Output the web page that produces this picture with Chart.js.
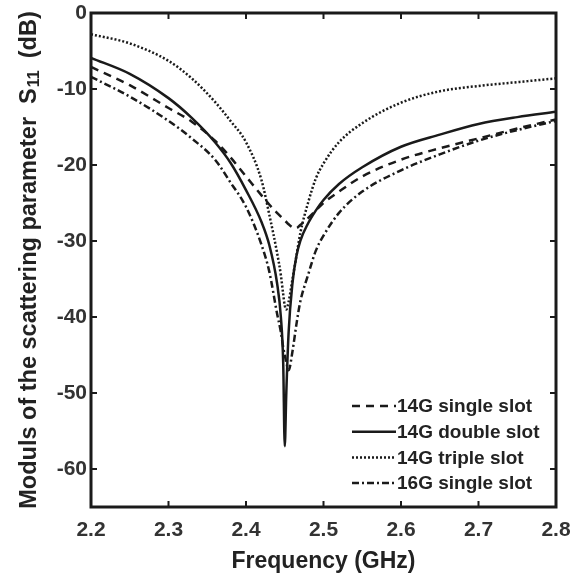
<!DOCTYPE html>
<html>
<head>
<meta charset="utf-8">
<script src="https://cdn.jsdelivr.net/npm/chart.js@4.4.1/dist/chart.umd.min.js"></script>
<style>
  html, body { margin: 0; padding: 0; background: #fff; }
  #wrap { width: 571px; height: 576px; }
</style>
</head>
<body>
<div id="wrap"><canvas id="s11Chart" width="571" height="576"></canvas></div>
<script>
// frequency samples (GHz), denser around the resonance
const freq = [2.2, 2.25, 2.3, 2.33, 2.36, 2.38, 2.4, 2.42, 2.43, 2.44, 2.445, 2.448, 2.45, 2.452, 2.455, 2.46, 2.465, 2.47, 2.48, 2.49, 2.5, 2.52, 2.55, 2.6, 2.65, 2.7, 2.75, 2.8];

// S11 (dB)
const single14 = [-7.1, -9.5, -12.5, -14.3, -16.8, -19.0, -21.5, -24.0, -25.2, -26.3, -26.8, -27.1, -27.3, -27.5, -27.8, -28.2, -28.3, -27.9, -27.0, -26.0, -25.0, -23.5, -21.5, -19.3, -17.8, -16.5, -15.2, -14.0];
const double14 = [-5.9, -8.0, -11.2, -13.8, -17.0, -19.7, -23.3, -27.5, -30.5, -35.5, -40, -46, -57, -50, -42, -35.5, -32, -30, -27.7, -26, -24.6, -22.5, -20.3, -17.6, -16.0, -14.6, -13.7, -13.0];
const triple14 = [-2.8, -4.0, -6.3, -8.6, -11.7, -14.2, -17.0, -22.0, -26.5, -31.5, -34.5, -37, -38.5, -39, -38, -35, -32, -29, -25, -21.8, -19.8, -17, -14.5, -11.8, -10.3, -9.6, -9.1, -8.6];
const single16 = [-8.4, -11.0, -14.2, -16.5, -19.3, -22.3, -25.5, -30.5, -34, -39.5, -42, -44, -45, -46, -47, -44.5, -41, -38, -34.5, -31.3, -29.3, -26.3, -23.5, -20.7, -18.6, -16.8, -15.4, -14.2];

const seriesLabels = ['14G single slot', '14G double slot', '14G triple slot', '16G single slot'];
const xTicks = [2.2, 2.3, 2.4, 2.5, 2.6, 2.7, 2.8];
const yTicks = [0, -10, -20, -30, -40, -50, -60];

const FONT = '"Liberation Sans", Arial, sans-serif';
const INK = '#1a1a1a';

function toPoints(vals) {
  return freq.map((f, i) => ({ x: f, y: vals[i] }));
}

function lineSet(label, vals, dash, width) {
  return {
    label,
    data: toPoints(vals),
    borderColor: INK,
    borderWidth: width,
    borderDash: dash,
    pointRadius: 0,
    fill: false,
    cubicInterpolationMode: 'monotone',
  };
}

// frame, inward ticks, axis titles and legend inside the plot
const decorPlugin = {
  id: 'decor',
  afterDraw(chart) {
    const { ctx, chartArea: a, scales } = chart;
    ctx.save();

    // inward tick marks on all four sides
    ctx.strokeStyle = INK;
    ctx.lineWidth = 2;
    ctx.setLineDash([]);
    yTicks.forEach((v) => {
      const py = scales.y.getPixelForValue(v);
      ctx.beginPath();
      ctx.moveTo(a.left, py); ctx.lineTo(a.left + 6, py);
      ctx.moveTo(a.right, py); ctx.lineTo(a.right - 6, py);
      ctx.stroke();
    });
    xTicks.forEach((v) => {
      const px = scales.x.getPixelForValue(v);
      ctx.beginPath();
      ctx.moveTo(px, a.bottom); ctx.lineTo(px, a.bottom - 6);
      ctx.moveTo(px, a.top); ctx.lineTo(px, a.top + 6);
      ctx.stroke();
    });

    // box
    ctx.lineWidth = 3;
    ctx.strokeRect(a.left, a.top, a.right - a.left, a.bottom - a.top);

    // x title
    ctx.fillStyle = '#222';
    ctx.font = 'bold 23px ' + FONT;
    ctx.textAlign = 'center';
    ctx.textBaseline = 'alphabetic';
    ctx.fillText('Frequency (GHz)', (a.left + a.right) / 2, 568);

    // y title with subscript
    const main = 'Moduls of the scattering parameter  S';
    const sub = '11';
    const tail = '  (dB)';
    const bigFont = 'bold 23.5px ' + FONT;
    const subFont = 'bold 16px ' + FONT;
    ctx.font = bigFont;
    const w1 = ctx.measureText(main).width;
    const w3 = ctx.measureText(tail).width;
    ctx.font = subFont;
    const w2 = ctx.measureText(sub).width;
    const total = w1 + w2 + w3;
    ctx.translate(36, (a.top + a.bottom) / 2);
    ctx.rotate(-Math.PI / 2);
    ctx.textAlign = 'left';
    ctx.textBaseline = 'alphabetic';
    const x0 = -total / 2;
    ctx.font = bigFont;
    ctx.fillText(main, x0, 0);
    ctx.font = subFont;
    ctx.fillText(sub, x0 + w1 + 1, 3);
    ctx.font = bigFont;
    ctx.fillText(tail, x0 + w1 + w2, 0);
    ctx.setTransform(1, 0, 0, 1, 0, 0);

    // legend
    const lx0 = a.right - 204;
    const lx1 = a.right - 160;
    const ly0 = 406;
    ctx.font = 'bold 19px ' + FONT;
    ctx.textAlign = 'left';
    ctx.textBaseline = 'middle';
    chart.data.datasets.forEach((ds, i) => {
      const y = ly0 + i * 25.7;
      ctx.lineWidth = ds.borderWidth;
      ctx.setLineDash(ds.borderDash || []);
      ctx.beginPath();
      ctx.moveTo(lx0, y);
      ctx.lineTo(lx1, y);
      ctx.stroke();
      ctx.setLineDash([]);
      ctx.fillStyle = '#222';
      ctx.fillText(ds.label, lx1 + 1, y + 1);
    });

    ctx.restore();
  },
};

const ctx = document.getElementById('s11Chart').getContext('2d');
const s11Chart = new Chart(ctx, {
  type: 'line',
  data: {
    datasets: [
      lineSet(seriesLabels[0], single14, [8, 6], 2.5),
      lineSet(seriesLabels[1], double14, [], 2.5),
      lineSet(seriesLabels[2], triple14, [2, 2], 2.5),
      lineSet(seriesLabels[3], single16, [7, 3, 2, 3], 2.5),
    ],
  },
  options: {
    responsive: false,
    animation: false,
    devicePixelRatio: 1,
    layout: { padding: { left: 0, top: 13, right: 15, bottom: 0 } },
    plugins: {
      legend: { display: false },
      tooltip: { enabled: false },
    },
    scales: {
      x: {
        type: 'linear',
        min: 2.2,
        max: 2.8,
        afterFit: (s) => { s.height = 69; s.paddingLeft = 0; s.paddingRight = 0; },
        afterBuildTicks: (s) => { s.ticks = xTicks.map((v) => ({ value: v })); },
        grid: { display: false, drawTicks: false },
        border: { display: false },
        ticks: {
          color: '#333',
          font: { family: FONT, size: 21, weight: 'bold' },
          padding: 11,
          maxRotation: 0,
          callback: (v) => v.toFixed(1),
        },
      },
      y: {
        type: 'linear',
        min: -65,
        max: 0,
        afterFit: (s) => { s.width = 91; s.paddingTop = 0; s.paddingBottom = 0; },
        afterBuildTicks: (s) => { s.ticks = yTicks.map((v) => ({ value: v })); },
        grid: { display: false, drawTicks: false },
        border: { display: false },
        ticks: {
          color: '#333',
          font: { family: FONT, size: 21, weight: 'bold' },
          padding: 4,
          callback: (v) => String(v),
        },
      },
    },
  },
  plugins: [decorPlugin],
});
</script>
</body>
</html>
